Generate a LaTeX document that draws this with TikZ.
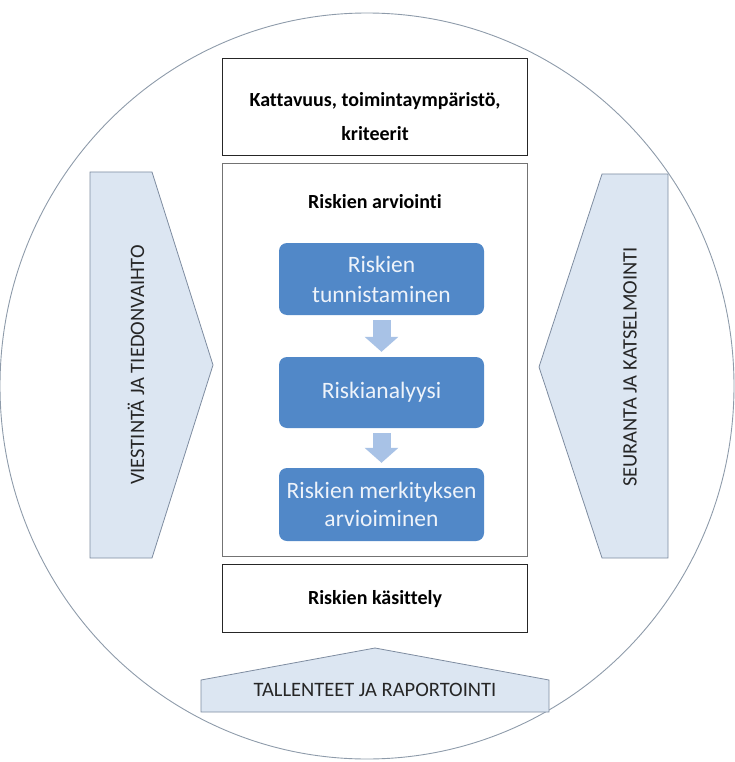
\documentclass[tikz,border=0pt]{standalone}
\usepackage{fontspec}
\setmainfont{Carlito}[Ligatures={NoCommon}]
\usetikzlibrary{arrows.meta}
\definecolor{lblue}{HTML}{DCE6F2}
\definecolor{lborder}{HTML}{7E8CA0}
\definecolor{bblue}{HTML}{5188C8}
\definecolor{ablue}{HTML}{A8C2E6}
\definecolor{wtext}{HTML}{EEF3FA}
\definecolor{ringcol}{HTML}{8E9BAA}
\tikzset{
  x=1pt, y=-1pt,
  plainbox/.style={draw=black!85, line width=1.2pt, fill=white},
  bluebox/.style={fill=bblue, rounded corners=8pt, text=wtext, font=\fontsize{23.5}{25}\selectfont, align=center},
  sideshape/.style={draw=lborder, line width=0.8pt, fill=lblue},
  sidetext/.style={font=\fontsize{20.5}{22}\selectfont, text=black!85},
  flowarrow/.style={ablue, line width=18pt, -{Triangle[width=33pt,length=15pt]}, shorten <=5pt, shorten >=5pt},
  heading/.style={font=\bfseries\fontsize{20}{22}\selectfont, align=center}
}
\begin{document}
\begin{tikzpicture}
\useasboundingbox (0,0) rectangle (735,762);
% outer ellipse
\draw[ringcol, line width=0.9pt] (367,386) ellipse [x radius=367, y radius=373];
% left chevron
\draw[sideshape] (90,172) -- (152,172) -- (213,365) -- (152,558) -- (90,558) -- cycle;
\node[sidetext, rotate=90] (viest) at (136,365) {VIESTINTÄ JA TIEDONVAIHTO};
% right shape
\draw[sideshape] (602,174) -- (668,174) -- (668,558) -- (602,558) -- (539,367) -- cycle;
\node[sidetext, rotate=90] (seur) at (630,367) {SEURANTA JA KATSELMOINTI};
% bottom shape
\draw[sideshape] (201,680) -- (375,648) -- (549,680) -- (549,712) -- (201,712) -- cycle;
\node[sidetext] (tall) at (375,690) {TALLENTEET JA RAPORTOINTI};
% top box
\node[plainbox, minimum width=305pt, minimum height=97pt, anchor=north west] (top) at (222,58) {};
\node[heading] at (375,101) {Kattavuus, toimintaympäristö,};
\node[heading] at (375,134) {kriteerit};
% middle box
\node[draw=black!55, line width=0.8pt, fill=white, minimum width=305pt, minimum height=393pt, anchor=north west] (mid) at (222,163) {};
\node[heading] (arv) at (375,202) {Riskien arviointi};
% blue boxes
\node[bluebox, minimum width=205pt, minimum height=72pt] (b1) at (381.5,279) {Riskien\\[5pt]tunnistaminen};
\node[bluebox, minimum width=205pt, minimum height=71pt] (b2) at (381.5,392.5) {Riskianalyysi};
\node[bluebox, minimum width=205pt, minimum height=73pt] (b3) at (381.5,504.5) {Riskien merkityksen\\[3pt]arvioiminen};
\draw[flowarrow] (b1.south) -- (b2.north);
\draw[flowarrow] (b2.south) -- (b3.north);
% bottom box
\node[plainbox, minimum width=305pt, minimum height=68pt, anchor=north west] (kas) at (222,564) {};
\node[heading] at (375,599) {Riskien käsittely};
\end{tikzpicture}
\end{document}
